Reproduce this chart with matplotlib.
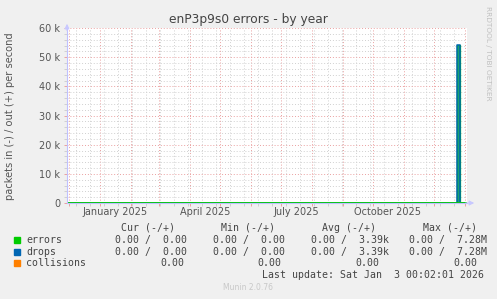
import numpy as np
import pandas as pd
import matplotlib
matplotlib.use('Agg')
from matplotlib import pyplot as plt
import matplotlib.dates as mdates
from matplotlib.ticker import MultipleLocator, FuncFormatter, NullFormatter, FixedLocator

# data (per-day samples, packets/s, out direction)
dates = ['2024-11-29 00:02', '2025-12-24 00:00', '2025-12-27 00:00', '2026-01-03 00:02']
errors = [0, 54300, 0, 0]
drops = [0, 54300, 0, 0]
collisions = [0, 0, 0, 0]

series_names = ['errors', 'drops', 'collisions']
series_colors = ['#00CC00', '#0066B3', '#FF8000']
legend_rows = [
    ['0.00 /  0.00', '0.00 /  0.00', '0.00 /  3.39k', '0.00 /  7.28M'],
    ['0.00 /  0.00', '0.00 /  0.00', '0.00 /  3.39k', '0.00 /  7.28M'],
    ['0.00', '0.00', '0.00', '0.00'],
]
headers = ['Cur (-/+)', 'Min (-/+)', 'Avg (-/+)', 'Max (-/+)']
x_labels = ['January 2025', 'April 2025', 'July 2025', 'October 2025']

W, H = 497, 299
fig = plt.figure(figsize=(W / 100, H / 100), dpi=100, facecolor='#F0F0F0')

# plot area in pixels
px_l, px_r, px_t, px_b = 67, 467, 28, 203
ax = fig.add_axes([px_l / W, 1 - px_b / H, (px_r - px_l) / W, (px_b - px_t) / H])
ax.set_facecolor('white')

t = pd.to_datetime(dates, format='%Y-%m-%d %H:%M')
end = t[-1]
start = end - pd.Timedelta(days=400)

# grid: red at month starts, gray every two weeks (sundays)
ax.xaxis.set_major_locator(mdates.MonthLocator(bymonthday=1))
biweekly = pd.date_range('2024-11-24', end, freq='14D')
ax.xaxis.set_minor_locator(FixedLocator(mdates.date2num(biweekly)))
ax.xaxis.set_major_formatter(NullFormatter())
ax.xaxis.set_minor_formatter(NullFormatter())
ax.yaxis.set_major_locator(MultipleLocator(10000))
ax.yaxis.set_minor_locator(MultipleLocator(2000))
ax.yaxis.set_major_formatter(FuncFormatter(lambda v, p: '0' if v == 0 else '%d k' % (v / 1000)))

ax.grid(True, which='minor', color='#d0d0d0', linestyle=(0, (1, 2)), linewidth=0.7)
ax.grid(True, which='major', color='#eaa0a0', linestyle=(0, (1, 2)), linewidth=0.7)
ax.set_axisbelow(True)

ax.tick_params(axis='both', which='major', length=2, width=0.7, color='#eaa0a0',
               labelsize=7, labelcolor='#555555', pad=3)
ax.tick_params(axis='both', which='minor', length=2, width=0.7, color='#d0d0d0')

# month labels centred in the middle of their month
for lab in x_labels:
    mid = pd.Timestamp(lab) + pd.Timedelta(days=15)
    ax.text(mid, -0.052, lab, transform=ax.get_xaxis_transform(), ha='center', va='center',
            fontsize=7, color='#555555')

for s in ['top', 'right']:
    ax.spines[s].set_visible(False)
for s in ['left', 'bottom']:
    ax.spines[s].set_color('#c0c0ff')
    ax.spines[s].set_linewidth(0.8)

# series
ax.fill_between(t, drops, step='post', color='#1f9a84', linewidth=0)
ax.step(t, collisions, where='post', color=series_colors[2], linewidth=1.0)
ax.step(t, errors, where='post', color=series_colors[0], linewidth=0.9)
ax.step(t, drops, where='post', color=series_colors[1], linewidth=1.1)
ax.plot(t, [0] * len(t), color=series_colors[0], linewidth=1.3)

ax.set_xlim(start, end)
ax.set_ylim(0, 60000)

# axis arrows
ax.annotate('', xy=(0, 1.04), xytext=(0, 0.97), xycoords='axes fraction',
            arrowprops=dict(arrowstyle='-|>', color='#c8c8ff', lw=0.8, mutation_scale=7))
ax.annotate('', xy=(1.025, 0), xytext=(0.99, 0), xycoords='axes fraction',
            arrowprops=dict(arrowstyle='-|>', color='#c8c8ff', lw=0.8, mutation_scale=7))

def fx(x):
    return x / W

def fy(y):
    return 1 - y / H

fig.text(fx(248), fy(19), 'enP3p9s0 errors - by year', ha='center', va='center',
         fontsize=8.8, color='#444444')
fig.text(fx(10), fy(116), 'packets in (-) / out (+) per second', rotation=90,
         ha='center', va='center', fontsize=7.1, color='#555555')
fig.text(fx(488), fy(6), 'RRDTOOL / TOBI OETIKER', rotation=270, ha='center', va='top',
         fontsize=5.3, color='#c0c0c0')

mono = dict(family='DejaVu Sans Mono', fontsize=7.1, color='#444444', va='center')
header_x = [120.7, 221, 321.7, 422.7]
for hx, h in zip(header_x, headers):
    fig.text(fx(hx), fy(227.7), h, ha='left', **mono)

row_y = [239.7, 251.7, 263.3]
cell_x = [115, 212.7, 310.7, 408.7]
coll_x = [160, 257.7, 355.7, 453.3]
for i, (name, col, vals) in enumerate(zip(series_names, series_colors, legend_rows)):
    y = row_y[i]
    fig.patches.append(plt.Rectangle((fx(14), fy(y + 3)), 6 / W, 6 / H,
                                     transform=fig.transFigure, color=col, figure=fig))
    fig.text(fx(26), fy(y), name, ha='left', **mono)
    xs = coll_x if name == 'collisions' else cell_x
    for cx, v in zip(xs, vals):
        fig.text(fx(cx), fy(y), v, ha='left', **mono)

fig.text(fx(261.7), fy(275.3), 'Last update: Sat Jan  3 00:02:01 2026', ha='left', **mono)
fig.text(fx(248), fy(288), 'Munin 2.0.76', ha='center', va='center', fontsize=5.5,
         color='#c8c8c8')

fig.savefig('out.png', dpi=100, facecolor=fig.get_facecolor())
